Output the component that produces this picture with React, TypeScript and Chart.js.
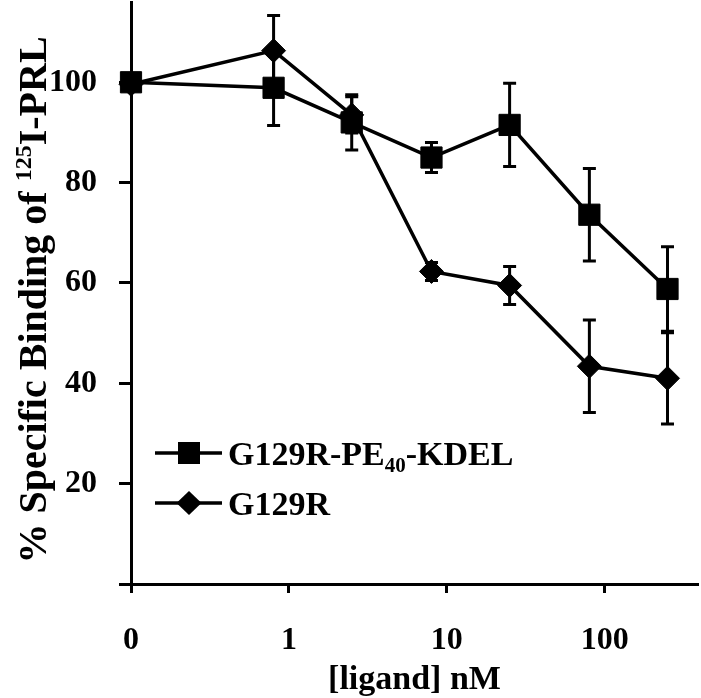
import React, { useEffect, useRef } from 'react';
import { Chart, registerables } from 'chart.js';

Chart.register(...registerables);

const FONT = "'Liberation Serif', 'Times New Roman', Times, serif";

// ---- data ----
const doses = [0, 0.8, 2.5, 8, 25, 80, 250]; // nM
const kdelMean = [100, 98.9, 92, 85, 91.5, 73.6, 58.8];
const kdelErr = [0, 7.5, 5.5, 3, 8.3, 9.2, 8.4];
const g129rMean = [99.6, 106.3, 93.5, 62.3, 59.5, 43.4, 41];
const g129rErr = [0, 7, 3.6, 1.8, 3.8, 9.2, 9.1];

const xTickValues = [0.1, 1, 10, 100];
const xTickLabels = ['0', '1', '10', '100'];
const yTickValues = [0, 20, 40, 60, 80, 100];
const yTickLabels = ['', '20', '40', '60', '80', '100'];

const ZERO_DOSE_POSITION = 0.1; // where the "0" dose sits on the log axis
const X_MIN = 0.1;
const X_MAX = 390;
const Y_MIN = 0;
const Y_MAX = 116;

const X_TITLE = '[ligand] nM';
const Y_TITLE_PARTS = [
  { text: '% Specific Binding of ', size: 40, dy: 0 },
  { text: '125', size: 24, dy: -15 },
  { text: 'I-PRL', size: 40, dy: 0 },
];
const LEGEND_ITEMS = [
  {
    marker: 'square',
    parts: [
      { text: 'G129R-PE', size: 34, dy: 0 },
      { text: '40', size: 21, dy: 7 },
      { text: '-KDEL', size: 34, dy: 0 },
    ],
  },
  {
    marker: 'diamond',
    parts: [{ text: 'G129R', size: 34, dy: 0 }],
  },
];

const errorsByDataset = [kdelErr, g129rErr];

type Part = { text: string; size: number; dy: number };

function measureRich(ctx: CanvasRenderingContext2D, parts: Part[]) {
  let w = 0;
  for (const p of parts) {
    ctx.font = `bold ${p.size}px ${FONT}`;
    w += ctx.measureText(p.text).width;
  }
  return w;
}

function drawRich(ctx: CanvasRenderingContext2D, parts: Part[], x: number, y: number) {
  let cx = x;
  ctx.textAlign = 'left';
  ctx.textBaseline = 'alphabetic';
  for (const p of parts) {
    ctx.font = `bold ${p.size}px ${FONT}`;
    ctx.fillText(p.text, cx, y + p.dy);
    cx += ctx.measureText(p.text).width;
  }
}

function drawMarker(ctx: CanvasRenderingContext2D, kind: string, x: number, y: number) {
  ctx.beginPath();
  if (kind === 'square') {
    ctx.rect(x - 11, y - 11, 22, 22);
  } else {
    ctx.moveTo(x, y - 12);
    ctx.lineTo(x + 12.5, y);
    ctx.lineTo(x, y + 12);
    ctx.lineTo(x - 12.5, y);
    ctx.closePath();
  }
  ctx.fill();
}

const errorBarPlugin = {
  id: 'errorBars',
  beforeDatasetsDraw(chart: any) {
    const { ctx } = chart;
    const xs = chart.scales.x;
    const ys = chart.scales.y;
    ctx.save();
    ctx.strokeStyle = '#000';
    ctx.lineWidth = 3;
    chart.data.datasets.forEach((ds: any, i: number) => {
      const errs = errorsByDataset[i];
      ds.data.forEach((pt: any, j: number) => {
        const e = errs[j];
        if (!e) return;
        const x = xs.getPixelForValue(pt.x);
        const y1 = ys.getPixelForValue(pt.y + e);
        const y2 = ys.getPixelForValue(pt.y - e);
        ctx.beginPath();
        ctx.moveTo(x, y1);
        ctx.lineTo(x, y2);
        ctx.moveTo(x - 6.5, y1);
        ctx.lineTo(x + 6.5, y1);
        ctx.moveTo(x - 6.5, y2);
        ctx.lineTo(x + 6.5, y2);
        ctx.stroke();
      });
    });
    ctx.restore();
  },
};

const textPlugin = {
  id: 'texts',
  afterDraw(chart: any) {
    const { ctx, chartArea } = chart;
    ctx.save();
    ctx.fillStyle = '#000';
    ctx.strokeStyle = '#000';

    // x-axis title
    ctx.font = `bold 34px ${FONT}`;
    ctx.textAlign = 'center';
    ctx.textBaseline = 'middle';
    ctx.fillText(X_TITLE, (chartArea.left + chartArea.right) / 2, 680);

    // y-axis title (rotated, with superscript)
    const w = measureRich(ctx, Y_TITLE_PARTS);
    ctx.save();
    ctx.translate(46, 300);
    ctx.rotate(-Math.PI / 2);
    drawRich(ctx, Y_TITLE_PARTS, -w / 2, 0);
    ctx.restore();

    // legend
    LEGEND_ITEMS.forEach((item, i) => {
      const y = 453 + i * 50;
      ctx.lineWidth = 3.5;
      ctx.beginPath();
      ctx.moveTo(155, y);
      ctx.lineTo(222, y);
      ctx.stroke();
      drawMarker(ctx, item.marker, 189, y);
      drawRich(ctx, item.parts, 228, y + 12);
    });
    ctx.restore();
  },
};

export default function App() {
  const canvasRef = useRef<HTMLCanvasElement | null>(null);

  useEffect(() => {
    const canvas = canvasRef.current;
    if (!canvas) return;
    const toX = (d: number) => (d === 0 ? ZERO_DOSE_POSITION : d);
    const chart = new Chart(canvas, {
      type: 'line',
      data: {
        datasets: [
          {
            label: 'G129R-PE40-KDEL',
            data: doses.map((d, i) => ({ x: toX(d), y: kdelMean[i] })),
            borderColor: '#000',
            backgroundColor: '#000',
            borderWidth: 3.5,
            pointStyle: 'rect',
            pointRadius: 15,
            pointBorderWidth: 1,
            pointBackgroundColor: '#000',
            pointBorderColor: '#000',
            tension: 0,
            clip: false,
          } as any,
          {
            label: 'G129R',
            data: doses.map((d, i) => ({ x: toX(d), y: g129rMean[i] })),
            borderColor: '#000',
            backgroundColor: '#000',
            borderWidth: 3.5,
            pointStyle: 'rectRot',
            pointRadius: 12,
            pointBorderWidth: 1,
            pointBackgroundColor: '#000',
            pointBorderColor: '#000',
            tension: 0,
            clip: false,
          } as any,
        ],
      },
      options: {
        animation: false,
        responsive: false,
        devicePixelRatio: 1,
        layout: { autoPadding: false, padding: { top: 2, right: 3, left: 0, bottom: 0 } },
        plugins: {
          legend: { display: false },
          tooltip: { enabled: false },
          title: { display: false },
        },
        scales: {
          x: {
            type: 'logarithmic',
            min: X_MIN,
            max: X_MAX,
            afterBuildTicks: (s: any) => {
              s.ticks = xTickValues.map((v) => ({ value: v }));
            },
            afterFit: (s: any) => {
              s.height = 114;
              s.paddingLeft = 0;
              s.paddingRight = 0;
              s.paddingTop = 0;
              s.paddingBottom = 0;
            },
            ticks: {
              autoSkip: false,
              maxRotation: 0,
              padding: 29,
              color: '#000',
              font: { family: FONT, size: 32, weight: 'bold' },
              callback: (_v: any, i: number) => xTickLabels[i],
            },
            grid: {
              display: true,
              drawOnChartArea: false,
              drawTicks: true,
              tickLength: 9,
              tickWidth: 3,
              tickColor: '#000',
              color: '#000',
            },
            border: { display: true, color: '#000', width: 3 },
          } as any,
          y: {
            type: 'linear',
            min: Y_MIN,
            max: Y_MAX,
            afterBuildTicks: (s: any) => {
              s.ticks = yTickValues.map((v) => ({ value: v }));
            },
            afterFit: (s: any) => {
              s.width = 131;
              s.paddingLeft = 0;
              s.paddingRight = 0;
              s.paddingTop = 0;
              s.paddingBottom = 0;
            },
            ticks: {
              autoSkip: false,
              padding: 22,
              color: '#000',
              font: { family: FONT, size: 32, weight: 'bold' },
              callback: (_v: any, i: number) => yTickLabels[i],
            },
            grid: {
              display: true,
              drawOnChartArea: false,
              drawTicks: true,
              tickLength: 12,
              tickWidth: 3,
              tickColor: '#000',
              color: '#000',
            },
            border: { display: true, color: '#000', width: 3 },
          } as any,
        },
      },
      plugins: [errorBarPlugin, textPlugin],
    });
    return () => chart.destroy();
  }, []);

  return (
    <div style={{ position: 'absolute', left: 0, top: 0, width: 701, height: 698, background: '#fff' }}>
      <canvas ref={canvasRef} width={701} height={698} style={{ display: 'block', width: 701, height: 698 }} />
    </div>
  );
}
